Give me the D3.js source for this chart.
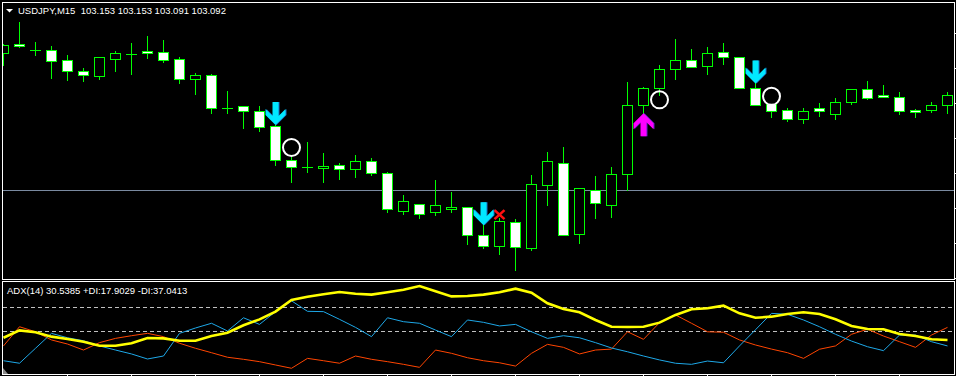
<!DOCTYPE html>
<html><head><meta charset="utf-8">
<script src="https://cdn.jsdelivr.net/npm/d3@7"></script>
<style>html,body{margin:0;padding:0;background:#000;overflow:hidden}svg{display:block}</style>
</head><body><svg id="c" width="956" height="376"></svg>
<script>
// ---------- DATA ----------
const title = "USDJPY,M15  103.153 103.153 103.091 103.092";
const adxLabel = "ADX(14) 30.5385 +DI:17.9029 -DI:37.0413";

const opens = [103.243,103.270,103.252,103.252,103.223,103.192,103.179,103.228,103.241,103.250,
  103.246,103.226,103.170,103.180,103.086,103.092,103.077,103.035,102.937,102.917,
  102.914,102.923,102.912,102.934,102.900,102.792,102.812,102.789,102.799,102.803,
  102.723,102.693,102.760,102.686,102.866,102.929,102.726,102.852,102.810,102.897,
  103.094,103.145,103.197,103.223,103.206,103.246,103.232,103.145,103.097,103.080,
  103.054,103.086,103.069,103.103,103.140,103.123,103.117,103.081,103.080,103.094];
const highs = [103.270,103.333,103.274,103.264,103.238,103.202,103.232,103.250,103.273,103.292,
  103.281,103.233,103.187,103.184,103.136,103.092,103.093,103.038,102.948,102.990,
  102.958,102.930,102.952,102.944,102.904,102.837,102.812,102.881,102.847,102.803,
  102.752,102.772,102.769,102.895,102.961,102.975,102.857,102.892,102.918,103.160,
  103.148,103.210,103.284,103.255,103.261,103.272,103.232,103.157,103.097,103.086,
  103.086,103.101,103.114,103.140,103.163,103.152,103.132,103.083,103.103,103.132];
const lows = [103.210,103.262,103.238,103.173,103.167,103.165,103.170,103.192,103.185,103.230,
  103.218,103.157,103.128,103.073,103.073,103.029,103.022,102.925,102.876,102.905,
  102.876,102.885,102.890,102.894,102.790,102.785,102.772,102.782,102.790,102.699,
  102.688,102.670,102.623,102.680,102.810,102.723,102.700,102.772,102.774,102.852,
  103.072,103.124,103.170,103.203,103.185,103.213,103.143,103.094,103.062,103.050,
  103.045,103.065,103.056,103.098,103.112,103.117,103.069,103.062,103.074,103.073];
const closes = [103.267,103.263,103.252,103.220,103.192,103.180,103.232,103.243,103.241,103.245,
  103.225,103.170,103.180,103.088,103.086,103.077,103.032,102.938,102.917,102.917,
  102.921,102.912,102.934,102.900,102.799,102.820,102.783,102.809,102.804,102.723,
  102.693,102.764,102.689,102.870,102.934,102.723,102.857,102.814,102.897,103.094,
  103.143,103.197,103.223,103.203,103.243,103.232,103.143,103.094,103.077,103.054,
  103.077,103.077,103.103,103.140,103.114,103.117,103.077,103.074,103.094,103.123];

const adx = [20.9,25.6,24.4,21.6,20.1,18.4,15.8,15.8,17.4,20.7,
  20.5,19.0,19.0,22.0,24.1,28.8,32.6,37.5,44.9,47.0,
  48.5,50.0,48.9,48.3,49.8,51.4,53.8,50.4,47.2,47.4,
  48.3,49.8,52.1,49.5,42.8,39.2,37.1,32.2,27.9,27.7,
  27.9,30.5,35.4,39.0,39.6,41.3,36.4,33.6,34.3,36.0,
  37.1,36.0,32.6,28.4,26.5,26.3,23.3,22.0,19.9,19.5];
const plusDI = [6.3,4.7,14.2,23.7,20.9,19.0,15.7,13.1,10.6,7.4,
  9.3,23.7,27.1,30.1,25.2,33.6,29.4,37.5,44.4,37.7,
  37.5,32.6,27.5,21.6,33.6,31.1,30.1,25.8,21.6,32.2,
  30.7,28.4,29.4,24.7,20.5,22.2,20.9,17.8,14.4,12.0,
  9.3,6.8,4.7,4.0,6.1,5.0,15.7,26.0,36.4,35.8,
  32.2,27.9,23.1,18.8,15.2,12.7,22.6,22.6,18.4,15.7];
const minusDI = [15.7,27.9,24.7,19.5,16.9,13.1,17.8,20.5,22.2,23.7,
  21.6,17.4,14.2,11.4,8.5,7.2,5.7,3.6,1.5,7.8,
  6.3,4.7,9.3,7.2,5.7,4.0,2.1,13.1,11.0,8.2,
  6.3,5.0,2.9,11.0,16.7,14.8,10.6,13.1,13.7,24.7,
  19.9,30.5,35.4,30.1,24.7,24.4,19.5,16.3,13.7,11.4,
  7.8,13.6,15.7,23.1,26.3,22.0,18.4,14.8,22.6,27.5];

const priceTicks = [103.3,103.2,103.1,103.0,102.9,102.8,102.7,102.6];
const hLinePrice = 102.852;
const adxLevels = [25, 40];
const downArrowBars = [17, 30, 47];
const upArrowBars = [40];
const circleBars = [18, 41, 48];
const circlePrices = [102.974, 103.110, 103.120];
const crossBars = [31];
const crossPrices = [102.782];
const timeTickBars = [4,8,12,16,20,24,28,32,36,40,44,48,52,56];

// ---------- SCALES ----------
const svg = d3.select("#c");
const x = d3.scaleLinear().domain([0, 59]).range([3, 947]);
const yP = d3.scaleLinear().domain([102.6, 103.3]).range([278.333, 33.333]);
const yI = d3.scaleLinear().domain([25, 40]).range([331.3, 307.7]);
const px = v => Math.round(v) + 0.5;

const GREEN = "#00ff00";

// background
svg.append("rect").attr("width",956).attr("height",376).attr("fill","#000");

// clip paths
const defs = svg.append("defs");
defs.append("clipPath").attr("id","mainClip").append("rect").attr("x",3).attr("y",3).attr("width",951).attr("height",276);
defs.append("clipPath").attr("id","indClip").append("rect").attr("x",3).attr("y",282).attr("width",951).attr("height",92);

// ---------- MAIN PANEL ----------
const main = svg.append("g").attr("clip-path","url(#mainClip)");

// horizontal line
main.append("line")
  .attr("x1",0).attr("x2",956)
  .attr("y1",px(yP(hLinePrice))).attr("y2",px(yP(hLinePrice)))
  .attr("stroke","#7a8aa0").attr("stroke-width",1);

const bars = d3.range(opens.length);
const cg = main.append("g").attr("shape-rendering","crispEdges");
bars.forEach(i => {
  const cx = Math.round(x(i)) + 0.5;
  const o = opens[i], c = closes[i];
  cg.append("line").attr("x1",cx).attr("x2",cx)
    .attr("y1",Math.round(yP(highs[i]))).attr("y2",Math.round(yP(lows[i]))+1)
    .attr("stroke",GREEN).attr("stroke-width",1);
  const top = px(yP(Math.max(o,c))), bot = px(yP(Math.min(o,c)));
  if (bot - top < 1) {
    cg.append("line").attr("x1",cx-5.5).attr("x2",cx+5.5).attr("y1",top).attr("y2",top)
      .attr("stroke",GREEN).attr("stroke-width",1);
  } else {
    cg.append("rect").attr("x",cx-5).attr("y",top).attr("width",10).attr("height",bot-top)
      .attr("fill", c > o ? "#000" : "#fff").attr("stroke",GREEN).attr("stroke-width",1);
  }
});

// arrows
const arrowPts = [[0,0],[10,-10],[10,-16],[3,-9],[3,-23],[-3,-23],[-3,-9],[-10,-16],[-10,-10]];
const arrowPath = "M" + arrowPts.map(p=>p.join(",")).join("L") + "Z";
downArrowBars.forEach(i => {
  const g = main.append("g").attr("transform",`translate(${x(i)+0.5},${yP(highs[i])})`);
  g.append("path").attr("d",arrowPath).attr("fill","#1a70c8").attr("transform","translate(1,0)");
  g.append("path").attr("d",arrowPath).attr("fill","#00e8ff");
});
upArrowBars.forEach(i => {
  const g = main.append("g").attr("transform",`translate(${x(i)+0.5},${yP(lows[i])}) rotate(180)`);
  g.append("path").attr("d",arrowPath).attr("fill","#6020c0").attr("transform","translate(-1,0)");
  g.append("path").attr("d",arrowPath).attr("fill","#ff00ff");
});

// circles
circleBars.forEach((i,k) => {
  main.append("circle").attr("cx",x(i)+0.5).attr("cy",yP(circlePrices[k])).attr("r",8.5)
    .attr("fill","none").attr("stroke","#fff").attr("stroke-width",2);
});

// red cross
crossBars.forEach((i,k) => {
  const cx = x(i)+0.5, cy = yP(crossPrices[k]);
  main.append("path").attr("d",`M${cx-5},${cy-4.5}L${cx+5},${cy+4.5}M${cx+5},${cy-4.5}L${cx-5},${cy+4.5}`)
    .attr("stroke","#ff1010").attr("stroke-width",2.6).attr("stroke-linecap","butt");
});

// frame main
svg.append("rect").attr("x",2.5).attr("y",2.5).attr("width",952).attr("height",277)
  .attr("fill","none").attr("stroke","#fff").attr("stroke-width",1).attr("shape-rendering","crispEdges");
// right price ticks
svg.append("g").selectAll("line").data(priceTicks).join("line")
  .attr("x1",955).attr("x2",958).attr("y1",d=>px(yP(d))).attr("y2",d=>px(yP(d)))
  .attr("stroke","#fff").attr("shape-rendering","crispEdges");

// title
svg.append("path").attr("d","M6,9L13,9L9.5,12.5Z").attr("fill","#fff");
svg.append("text").attr("x",18).attr("y",14).attr("fill","#fff")
  .attr("font-family","'Liberation Sans', Arial, sans-serif").attr("font-size","9.5px")
  .style("white-space","pre").text(title);

// ---------- INDICATOR PANEL ----------
const ind = svg.append("g").attr("clip-path","url(#indClip)");
ind.selectAll("line.lvl").data(adxLevels).join("line").attr("class","lvl")
  .attr("x1",3).attr("x2",954).attr("y1",d=>Math.floor(yI(d))+0.5).attr("y2",d=>Math.floor(yI(d))+0.5)
  .attr("stroke","#c0c0c0").attr("stroke-dasharray","4,3").attr("shape-rendering","crispEdges");

const line = arr => d3.line().x((d,i)=>x(i)+0.5).y(d=>yI(d))(arr);
ind.append("path").attr("d",line(minusDI)).attr("fill","none").attr("stroke","#ff4500").attr("stroke-width",1);
ind.append("path").attr("d",line(plusDI)).attr("fill","none").attr("stroke","#1ea8e8").attr("stroke-width",1);
ind.append("path").attr("d",line(adx)).attr("fill","none").attr("stroke","#ffff00").attr("stroke-width",2.6);

ind.append("path").attr("d","M3,368L3,374L8,374Z").attr("fill","#8a8a8a");

svg.append("rect").attr("x",2.5).attr("y",281.5).attr("width",952).attr("height",93)
  .attr("fill","none").attr("stroke","#fff").attr("stroke-width",1).attr("shape-rendering","crispEdges");
svg.append("g").selectAll("line").data(timeTickBars).join("line")
  .attr("x1",d=>x(d)+0.5).attr("x2",d=>x(d)+0.5).attr("y1",375).attr("y2",377)
  .attr("stroke","#fff").attr("shape-rendering","crispEdges");

svg.append("text").attr("x",7).attr("y",294).attr("fill","#fff")
  .attr("font-family","'Liberation Sans', Arial, sans-serif").attr("font-size","9.5px")
  .style("white-space","pre").text(adxLabel);
</script>
</body></html>
